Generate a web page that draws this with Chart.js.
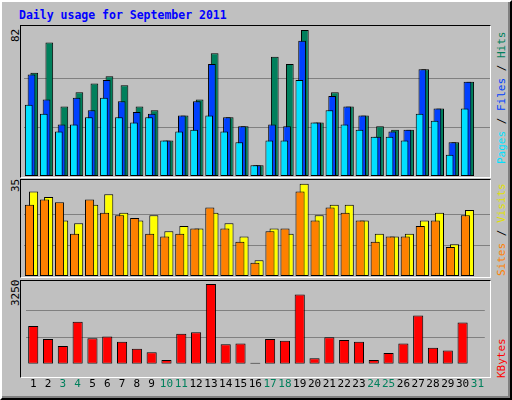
<!DOCTYPE html>
<html><head><meta charset="utf-8">
<script src="https://cdn.jsdelivr.net/npm/chart.js@4"></script>
<style>
body{margin:0;background:#fff}
#frame{position:absolute;left:0;top:0;width:508px;height:396px;background:#c0c0c0;border:2px solid #000;border-color:#fff #000 #000 #fff;box-shadow:inset -2px -2px 0 #808080}
.panel{position:absolute;left:20px;width:469px;background:#c0c0c0;border:1px solid;border-color:#000 #fff #fff #000}
canvas{position:absolute}
.t{position:absolute;font:bold 11.5px "DejaVu Sans Mono",monospace;white-space:nowrap}
.up{position:absolute;font:11px "DejaVu Sans Mono",monospace;white-space:nowrap;transform:rotate(-90deg);transform-origin:left top}
</style></head><body>
<div id="frame"></div>
<div class="t" style="left:19px;top:8px;color:#0000ff">Daily usage for September 2011</div>
<div class="panel" style="top:25px;height:151px"></div>
<div class="panel" style="top:179px;height:97px"></div>
<div class="panel" style="top:280px;height:96px"></div>
<div class="up" style="left:9px;top:42px">82</div>
<div class="up" style="left:9px;top:192px">35</div>
<div class="up" style="left:9px;top:306px">3250</div>
<div class="up" style="left:495px;top:164px"><span style="color:#00e0ff">Pages</span> / <span style="color:#0040ff">Files</span> / <span style="color:#00805c">Hits</span></div>
<div class="up" style="left:495px;top:276px"><span style="color:#ff8000">Sites</span> / <span style="color:#e0e000">Visits</span></div>
<div class="up" style="left:495px;top:378px;color:#ff0000">KBytes</div>
<canvas id="c1" style="left:24px;top:26px;width:466px;height:150px"></canvas>
<canvas id="c2" style="left:24px;top:180px;width:466px;height:96px"></canvas>
<canvas id="c3" style="left:24px;top:281px;width:466px;height:116px"></canvas>
<script>
const days = Array.from({length: 31}, (_, i) => String(i + 1));
const weekend = ['3','4','10','11','17','18','24','25','31'];
const hits   = [58,75,39,47,52,56,51,39,37,20,34,43,69,33,28,6,67,63,82,30,47,39,34,28,26,26,60,38,19,53,0];
const files  = [57,43,29,44,37,54,42,36,35,20,34,42,63,33,28,6,29,28,76,30,45,39,34,22,25,26,60,38,19,53,0];
const pages  = [40,35,25,29,33,44,33,30,33,20,25,26,34,25,19,6,20,20,54,30,37,29,26,22,22,20,35,31,12,38,0];
const visits = [32,30,21,20,27,31,24,21,23,17,19,18,24,20,15,6,18,16,35,23,27,27,21,16,15,16,21,24,12,25,0];
const sites  = [27,29,28,16,29,24,23,22,16,15,16,18,26,18,13,5,17,18,32,21,26,24,21,13,15,15,19,21,11,23,0];
const kbytes = [1536,1005,721,1714,1040,1111,898,615,473,154,1217,1288,3250,792,827,47,1005,934,2813,225,1075,969,898,154,437,827,1962,650,544,1678,0];
const maxes = [82, 35, 3250];

function ds(label, data, color, bp, order) {
  return {label, data, backgroundColor: color, borderColor: '#000', borderWidth: 1, order,
          borderSkipped: false, barPercentage: bp, categoryPercentage: 0.55};
}
function panel(id, sets, top, showX) {
  return new Chart(document.getElementById(id), {
    type: 'bar',
    data: {labels: days, datasets: sets},
    options: {
      responsive: false, animation: false, devicePixelRatio: 1,
      layout: {padding: 0},
      plugins: {legend: {display: false}, tooltip: {enabled: false}},
      scales: {
        x: {display: showX, grid: {display: false}, border: {display: false},
            ticks: {autoSkip: false, maxRotation: 0, padding: 6,
                    font: {family: 'DejaVu Sans Mono', size: 11},
                    color: c => weekend.includes(days[c.index]) ? '#00805c' : '#000'}},
        y: {min: 0, max: top, ticks: {display: false},
            border: {display: false},
            grid: {color: '#808080', lineWidth: 1, drawTicks: false},
            afterBuildTicks: a => { const m = maxes[id === 'c1' ? 0 : id === 'c2' ? 1 : 2];
                                    a.ticks = [{value: m / 3}, {value: 2 * m / 3}]; }}
      }
    }
  });
}
['c1','c2','c3'].forEach(id => {
  const c = document.getElementById(id);
  c.width = parseInt(c.style.width); c.height = parseInt(c.style.height);
});
panel('c1', [ds('Hits', hits, '#00805c', 2.8, 3), ds('Files', files, '#0040ff', 2.8, 2), ds('Pages', pages, '#00e0ff', 2.8, 1)], 84.3, false);
panel('c2', [ds('Visits', visits, '#ffff00', 2.2, 2), ds('Sites', sites, '#ff8000', 2.2, 1)], 36.4, false);
const k = ds('KBytes', kbytes, '#ff0000', 0.95, 1); k.categoryPercentage = 0.72;
panel('c3', [k], 3367, true);
</script>
</body></html>
